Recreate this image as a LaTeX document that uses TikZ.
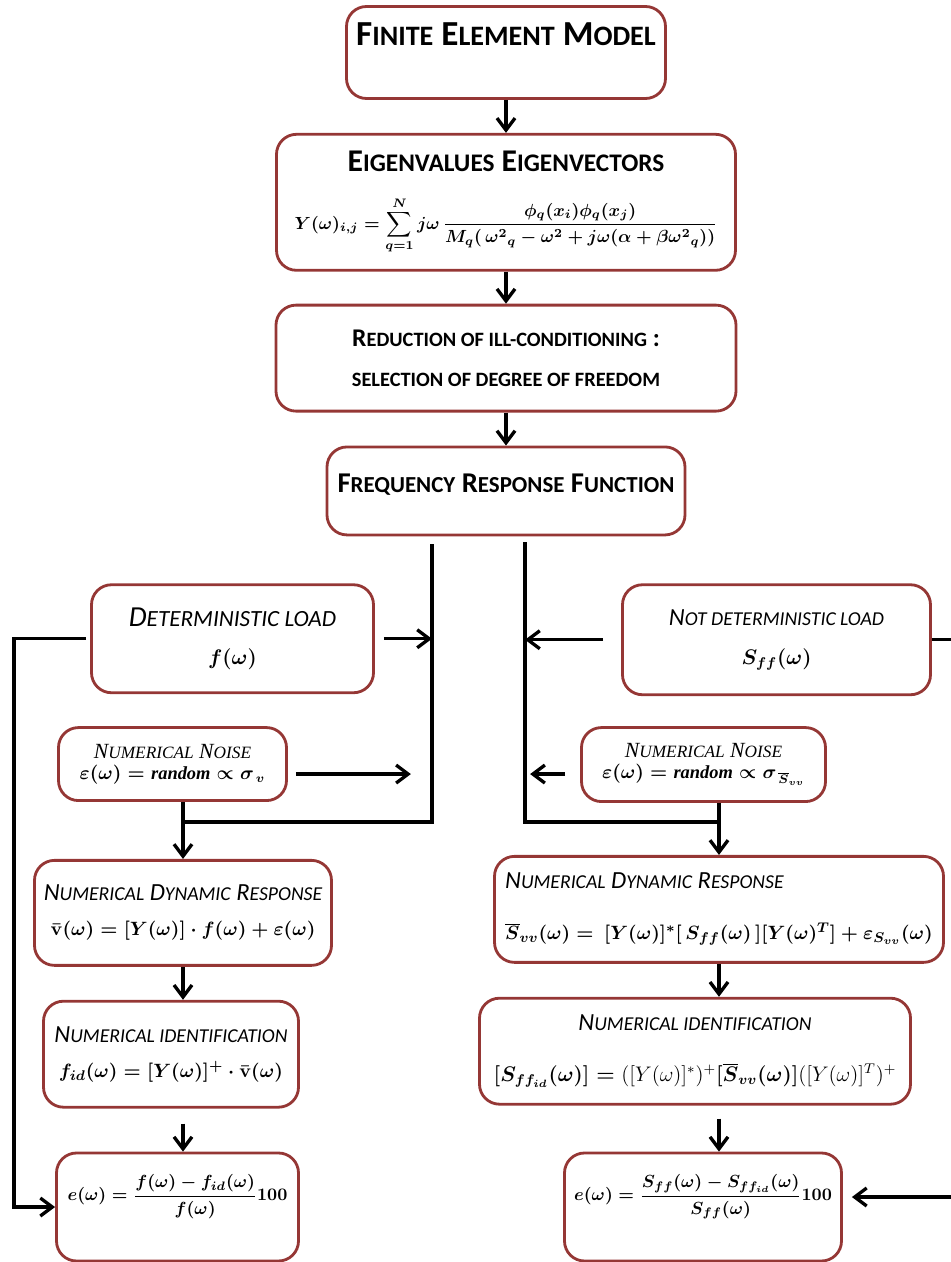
\documentclass[tikz,border=0pt]{standalone}
\usepackage{amsmath}
\usepackage{bm}
\usepackage{fontspec}
\usepackage{tikz}
\usetikzlibrary{positioning,arrows.meta}

\definecolor{boxred}{RGB}{149,55,53}
\newfontfamily\calib{Carlito}
\newfontfamily\tnr{Liberation Serif}
\makeatletter
\newcommand{\smc}[1]{{\@tempdima=\f@size pt\@tempdima=0.8\@tempdima
    \fontsize{\strip@pt\@tempdima}{\strip@pt\@tempdima}\selectfont#1}}
\makeatother

\begin{document}
\begin{tikzpicture}[box/.style={draw=boxred,line width=1.6pt,rounded corners=0.4cm,align=center,inner sep=2pt},
    arr/.style={line width=1.9pt,-{Straight Barb[length=2.4mm,width=3.6mm]}},
    ln/.style={line width=1.9pt}]
        \useasboundingbox (-10.12,1.05) rectangle (8.88,-24.19);

        \node[box,minimum width=6.38cm,minimum height=1.84cm,font={\calib\bfseries\fontsize{20}{24}\selectfont},text height=13pt,text depth=21pt] (fem) at (0,0) {F\smc{INITE} E\smc{LEMENT} M\smc{ODEL}};
        \node[box,minimum width=9.18cm,minimum height=2.72cm,font={\calib\bfseries\fontsize{18}{21}\selectfont}] (eig) [below=0.66cm of fem] {E\smc{IGENVALUES} E\smc{IGENVECTORS}\\[12pt]
            {\fontsize{9.8}{12}\selectfont\boldmath$\displaystyle Y(\omega)_{i,j}=\sum_{q=1}^{N} j\omega\,\frac{\phi_q(x_i)\phi_q(x_j)}{M_q(\,{\omega^2}_q-\omega^2+j\omega(\alpha+\beta{\omega^2}_q))}$}};
        \node[box,minimum width=9.2cm,minimum height=2.12cm,font={\calib\bfseries\fontsize{14.5}{17}\selectfont}] (red) [below=0.64cm of eig] {R\smc{EDUCTION OF ILL-CONDITIONING} :\\[6pt]\smc{SELECTION OF DEGREE OF FREEDOM}};
        \node[box,minimum width=7.16cm,minimum height=1.76cm,font={\calib\bfseries\fontsize{16.3}{19}\selectfont},text height=13pt,text depth=11pt] (frf) [below=0.66cm of red] {F\smc{REQUENCY} R\smc{ESPONSE} F\smc{UNCTION}};

        \node[box,minimum width=5.64cm,minimum height=2.16cm,font={\calib\itshape\fontsize{16.5}{19}\selectfont}] (det) [below=0.94cm of frf,xshift=-5.47cm] {D\smc{ETERMINISTIC LOAD}\\[3pt]{\fontsize{12}{14}\selectfont\boldmath$f(\omega)$}};
        \node[box,minimum width=6.16cm,minimum height=2.2cm,font={\calib\itshape\fontsize{14}{17}\selectfont}] (ndet) [below=0.94cm of frf,xshift=5.41cm] {N\smc{OT DETERMINISTIC LOAD}\\[5pt]{\fontsize{12}{14}\selectfont\boldmath$S_{ff}(\omega)$}};
        \node[box,minimum width=4.56cm,minimum height=1.46cm,font={\tnr\itshape\fontsize{12.3}{13}\selectfont}] (noiseL) [below=0.64cm of det,xshift=-1.2cm] {N\smc{UMERICAL} N\smc{OISE}\\[-1pt]{\fontsize{10.5}{12}\selectfont\boldmath$\varepsilon(\omega)=\text{\bfseries random}\propto\sigma_{\,v}$}};
        \node[box,minimum width=4.88cm,minimum height=1.48cm,font={\tnr\itshape\fontsize{12.3}{13}\selectfont}] (noiseR) [below=0.6cm of ndet,xshift=-1.46cm] {N\smc{UMERICAL} N\smc{OISE}\\[-1pt]{\fontsize{10.5}{12}\selectfont\boldmath$\varepsilon(\omega)=\text{\bfseries random}\propto\sigma_{\,\overline{S}_{vv}}$}};

        \node[box,minimum width=5.94cm,minimum height=2.1cm,font={\calib\itshape\fontsize{14}{17}\selectfont}] (ndrL) [below=1.14cm of noiseL,xshift=0.21cm] {N\smc{UMERICAL} D\smc{YNAMIC} R\smc{ESPONSE}\\[3pt]{\fontsize{11.4}{14}\selectfont\boldmath$\bar{\mathbf v}(\omega)=[Y(\omega)]\cdot f(\omega)+\varepsilon(\omega)$}};
        \node[box,minimum width=8.98cm,minimum height=2.12cm,align=left,font={\calib\itshape\fontsize{14}{17}\selectfont}] (ndrR) [below=1.04cm of noiseR,xshift=0.31cm] {N\smc{UMERICAL} D\smc{YNAMIC} R\smc{ESPONSE}\\[12pt]{\fontsize{11.2}{14}\selectfont\boldmath$\overline{S}_{vv}(\omega)=\ [Y(\omega)]^*[\,S_{ff}(\omega)\,][Y(\omega)^T]+\varepsilon_{S_{vv}}(\omega)$}};
        \node[box,minimum width=5.1cm,minimum height=2.12cm,font={\calib\itshape\fontsize{14}{17}\selectfont}] (niL) [below=0.66cm of ndrL,xshift=-0.24cm] {N\smc{UMERICAL IDENTIFICATION}\\[3pt]{\fontsize{10.9}{14}\selectfont\boldmath$f_{id}(\omega)=[Y(\omega)]^+\cdot\bar{\mathbf v}(\omega)$}};
        \node[box,minimum width=8.62cm,minimum height=2.12cm,font={\calib\itshape\fontsize{14}{17}\selectfont}] (niR) [below=0.66cm of ndrR,xshift=-0.48cm] {N\smc{UMERICAL IDENTIFICATION}\\[12pt]{\fontsize{12}{14}\selectfont\boldmath$[S_{ff_{id}}(\omega)]=\mbox{\unboldmath$([Y(\omega)]^*)^+$}[\overline{S}_{vv}(\omega)]\mbox{\unboldmath$([Y(\omega)]^T)^+$}$}};
        \node[box,minimum width=4.84cm,minimum height=2.16cm,font={\fontsize{10}{12}\selectfont\boldmath},text height=18pt,text depth=25pt] (errL) [below=0.86cm of niL,xshift=0.13cm] {$\displaystyle e(\omega)=\frac{f(\omega)-f_{id}(\omega)}{f(\omega)}100$};
        \node[box,minimum width=5.54cm,minimum height=2.16cm,font={\fontsize{10}{12}\selectfont\boldmath},text height=18pt,text depth=25pt] (errR) [below=0.92cm of niR,xshift=0.16cm] {$\displaystyle e(\omega)=\frac{S_{ff}(\omega)-S_{ff_{id}}(\omega)}{S_{ff}(\omega)}100$};

        \foreach \a/\b in {fem/eig,eig/red,red/frf}{
            \draw[arr] (\a) -- (\b);
        }
        \coordinate (lt) at ([xshift=-1.48cm,yshift=-0.16cm]frf.south);
        \coordinate (rt) at ([xshift=0.38cm,yshift=-0.12cm]frf.south);
        \coordinate (jl) at ([yshift=-0.4cm]noiseL.south -| ndrL.north);
        \coordinate (jr) at ([yshift=-0.38cm]noiseR.south -| ndrR.north);
        \draw[ln] (lt) |- (jl);
        \draw[ln] (rt) |- (jr);
        \draw[arr] (noiseL.south -| ndrL.north) -- (ndrL.north);
        \draw[arr] (noiseR.south -| ndrR.north) -- (ndrR.north);

        \draw[arr] ([xshift=0.18cm]det.east) -- (det.east -| lt);
        \draw[arr] ([xshift=0.16cm,yshift=-0.2cm]noiseL.east) -- ++(2.3cm,0);
        \draw[arr] ([xshift=-0.36cm]ndet.west) -- (ndet.west -| rt);
        \draw[arr] ([xshift=-0.3cm,yshift=-0.19cm]noiseR.west) -- ++(-0.7cm,0);

        \draw[arr] (ndrL.south) -- (ndrL.south |- niL.north);
        \draw[arr] (ndrR.south) -- (ndrR.south |- niR.north);
        \draw[arr,shorten <=0.3cm] (niL.south -| ndrL.south) -- (errL.north -| ndrL.south);
        \draw[arr,shorten <=0.26cm] (niR.south -| ndrR.south) -- (errR.north -| ndrR.south);

        \draw[arr] ([xshift=-0.08cm]det.west) -- ++(-1.44cm,0) |- (errL.west);
        \draw[arr] (ndet.east) -- ++(0.6cm,0) |- ([xshift=0.18cm,yshift=0.2cm]errR.east);
    \end{tikzpicture}
\end{document}
